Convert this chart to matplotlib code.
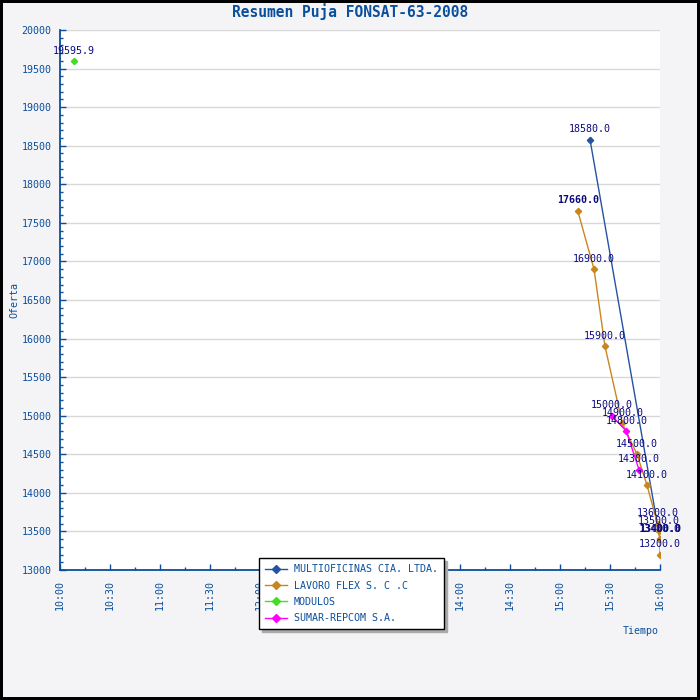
import numpy as np
import pandas as pd
import matplotlib
matplotlib.use('Agg')
import matplotlib.pyplot as plt
import matplotlib.dates as mdates

# datos (hora, oferta)
multi_t = ['15:18:00', '16:00:00']
multi_v = [18580.0, 13400.0]

lavoro_t = ['15:10:36', '15:20:24', '15:27:00', '15:37:24', '15:46:12',
            '15:52:12', '15:58:30', '15:59:20', '16:00:00', '16:00:00']
lavoro_v = [17660.0, 16900.0, 15900.0, 14900.0, 14500.0,
            14100.0, 13600.0, 13500.0, 13400.0, 13200.0]

modulos_t = ['10:08:24']
modulos_v = [19595.9]

sumar_t = ['15:31:00', '15:39:48', '15:47:24']
sumar_v = [15000.0, 14800.0, 14300.0]

nombres = ['MULTIOFICINAS CIA. LTDA.', 'LAVORO FLEX S. C .C', 'MODULOS', 'SUMAR-REPCOM S.A.']
colores = ['#2553a3', '#c8871e', '#44dd22', '#ff00ff']

bold_labels = [17660.0, 13400.0]

def to_dt(lst):
    return pd.to_datetime(['2008-01-01 ' + s for s in lst])

plt.rcParams['font.family'] = ['DejaVu Sans Mono']
azul = '#0a4f9c'

fig = plt.figure(figsize=(7, 7), dpi=100)
fig.patch.set_facecolor('#f4f4f6')
fig.patch.set_edgecolor('black')
fig.patch.set_linewidth(3)
ax = fig.add_axes([60/700, 130/700, 600/700, 540/700])
ax.set_facecolor('white')

series = [(multi_t, multi_v), (lavoro_t, lavoro_v), (modulos_t, modulos_v), (sumar_t, sumar_v)]
for (t, v), nom, c in zip(series, nombres, colores):
    x = to_dt(t)
    ax.plot(x, v, color=c, lw=1, marker='D', markersize=3.2, label=nom, zorder=3)
    for xi, vi in zip(x, v):
        ax.annotate('%.1f' % vi, (mdates.date2num(xi), vi), xytext=(0, 4),
                    textcoords='offset points', ha='center', va='bottom',
                    fontsize=7.2, color='#0a0a80',
                    fontweight='bold' if vi in bold_labels and c != colores[0] else 'normal',
                    zorder=4)

ax.set_xlim(pd.Timestamp('2008-01-01 10:00'), pd.Timestamp('2008-01-01 16:00'))
ax.set_ylim(13000, 20000)
ax.xaxis.set_major_locator(mdates.MinuteLocator(byminute=[0, 30]))
ax.xaxis.set_minor_locator(mdates.MinuteLocator(byminute=[15, 45]))
ax.xaxis.set_major_formatter(mdates.DateFormatter('%H:%M'))
ax.yaxis.set_major_locator(plt.MultipleLocator(500))
ax.yaxis.set_minor_locator(plt.MultipleLocator(100))

ax.grid(axis='y', color='#d8d8d8', lw=1)
ax.set_axisbelow(True)
for s in ['top', 'right']:
    ax.spines[s].set_visible(False)
for s in ['left', 'bottom']:
    ax.spines[s].set_color(azul)
    ax.spines[s].set_linewidth(1.3)

ax.tick_params(which='both', direction='in', color=azul, labelcolor=azul, labelsize=7.2)
ax.tick_params(which='major', length=4, width=1)
ax.tick_params(which='minor', length=2.5, width=1)
ax.tick_params(axis='y', pad=6)
ax.tick_params(axis='x', pad=7)
plt.setp(ax.get_xticklabels(), rotation=90)

fig.text(0.5, 1 - 12/700, 'Resumen Puja FONSAT-63-2008', ha='center', va='center',
         fontsize=10.5, fontweight='bold', color=azul)
fig.text(14/700, 1 - 300/700, 'Oferta', rotation=90, ha='center', va='center',
         fontsize=7.2, color=azul)
fig.text(641/700, 1 - 631/700, 'Tiempo', ha='center', va='center',
         fontsize=7.2, color=azul)

leg = fig.legend(loc='lower left', bbox_to_anchor=(259/700, 71/700), borderaxespad=0,
                 frameon=True, shadow={'color': '#aaaaaa', 'alpha': 1}, fancybox=False,
                 fontsize=7.2, handlelength=2.2, handletextpad=0.7, markerscale=1.4,
                 labelspacing=0.62, borderpad=0.6)
leg.get_frame().set_edgecolor('black')
leg.get_frame().set_linewidth(1)
for txt in leg.get_texts():
    txt.set_color(azul)
leg.set_zorder(10)

fig.savefig('out.png', dpi=100, facecolor=fig.get_facecolor(), edgecolor=fig.get_edgecolor())
